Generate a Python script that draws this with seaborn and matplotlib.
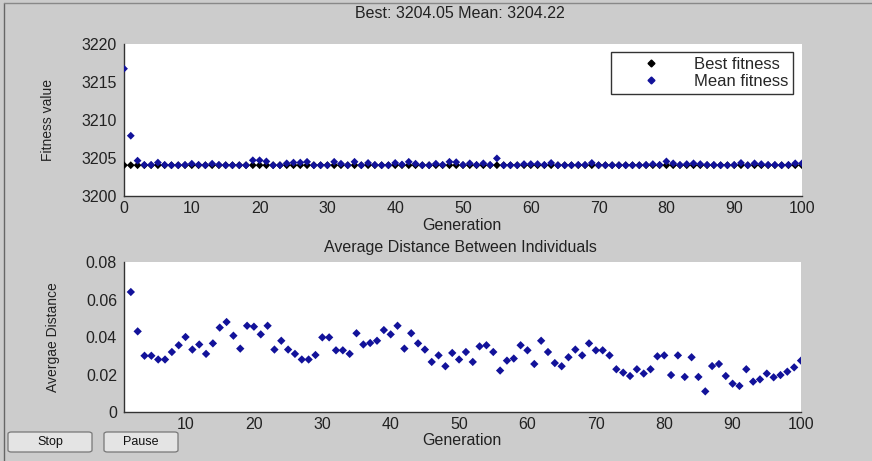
import matplotlib
matplotlib.use("Agg")
import matplotlib.pyplot as plt
import seaborn as sns
import pandas as pd
from matplotlib.patches import FancyBboxPatch
from matplotlib.lines import Line2D

# ---------------- data ----------------
generations_top = list(range(0, 101))
best_fitness = [3204.05] * 101
mean_fitness = [
    3216.75, 3207.93, 3204.65, 3204.1, 3204.1, 3204.4, 3204.1, 3204.05, 3204.05, 3204.1,
    3204.25, 3204.1, 3204.05, 3204.25, 3204.1, 3204.05, 3204.05, 3204.05, 3204.05, 3204.7,
    3204.7, 3204.55, 3204.05, 3204.05, 3204.3, 3204.4, 3204.4, 3204.5, 3204.05, 3204.05,
    3204.05, 3204.5, 3204.25, 3204.05, 3204.5, 3204.05, 3204.35, 3204.1, 3204.05, 3204.05,
    3204.35, 3204.15, 3204.5, 3204.25, 3204.05, 3204.05, 3204.25, 3204.1, 3204.5, 3204.45,
    3204.1, 3204.3, 3204.1, 3204.3, 3204.1, 3204.95, 3204.05, 3204.05, 3204.05, 3204.2,
    3204.2, 3204.2, 3204.1, 3204.35, 3204.05, 3204.05, 3204.05, 3204.1, 3204.1, 3204.35,
    3204.05, 3204.05, 3204.05, 3204.05, 3204.05, 3204.05, 3204.05, 3204.1, 3204.2, 3204.1,
    3204.55, 3204.3, 3204.1, 3204.2, 3204.3, 3204.2, 3204.1, 3204.1, 3204.05, 3204.05,
    3204.1, 3204.35, 3204.05, 3204.3, 3204.2, 3204.1, 3204.1, 3204.05, 3204.1, 3204.3,
    3204.3,
]

generations_bottom = list(range(2, 101))
avg_distance = [
    0.064, 0.043, 0.030, 0.030, 0.028, 0.028, 0.032, 0.0356, 0.040,
    0.0333, 0.036, 0.031, 0.0366, 0.045, 0.048, 0.0407, 0.0338, 0.046, 0.0455,
    0.0414, 0.046, 0.0333, 0.038, 0.0333, 0.031, 0.028, 0.028, 0.0304, 0.0398,
    0.0398, 0.0329, 0.0329, 0.031, 0.042, 0.036, 0.0368, 0.038, 0.0437, 0.0414,
    0.046, 0.0338, 0.042, 0.0366, 0.0333, 0.0267, 0.0302, 0.0244, 0.0315, 0.028,
    0.032, 0.0267, 0.035, 0.0356, 0.032, 0.0221, 0.0274, 0.0285, 0.0356, 0.0329,
    0.0256, 0.038, 0.032, 0.0261, 0.0244, 0.0292, 0.0333, 0.0302, 0.0366, 0.0329,
    0.0329, 0.0302, 0.0228, 0.021, 0.0192, 0.0228, 0.0205, 0.0228, 0.0297, 0.0302,
    0.0197, 0.0302, 0.0187, 0.0292, 0.0187, 0.011, 0.0245, 0.0256, 0.0192, 0.0151,
    0.0139, 0.0228, 0.0162, 0.0174, 0.0205, 0.0185, 0.0197, 0.0215, 0.0238, 0.0274,
]

title_top = "Best: 3204.05 Mean: 3204.22"
title_bottom = "Average Distance Between Individuals"
legend_labels = ["Best fitness", "Mean fitness"]
top_yticks = [3200, 3205, 3210, 3215, 3220]
top_xticks = list(range(0, 101, 10))
bottom_yticks = [0, 0.02, 0.04, 0.06, 0.08]
bottom_ytick_labels = ["0", "0.02", "0.04", "0.06", "0.08"]
bottom_xticks = list(range(10, 101, 10))

# ---------------- style ----------------
sns.set_style("white")
plt.rcParams['font.family'] = ['Liberation Sans', 'DejaVu Sans']

W, H = 872, 461
BG = "#cccccc"
BLUE = "#12129a"

fig = plt.figure(figsize=(W / 100, H / 100), dpi=100, facecolor=BG)

def fx(px):
    return px / W

def fy(py):
    return 1 - py / H

ax1 = fig.add_axes([fx(124), fy(196), fx(802) - fx(124), fy(44) - fy(196)])
ax2 = fig.add_axes([fx(124), fy(412), fx(801) - fx(124), fy(262) - fy(412)])

df_top = pd.DataFrame({"Generation": generations_top * 2,
                       "value": best_fitness + mean_fitness,
                       "series": [legend_labels[0]] * 101 + [legend_labels[1]] * 101})
sns.scatterplot(data=df_top, x="Generation", y="value", hue="series",
                palette={legend_labels[0]: "black", legend_labels[1]: BLUE},
                marker="D", s=16, edgecolor="none", ax=ax1, legend=False, zorder=3)

df_bot = pd.DataFrame({"Generation": generations_bottom, "dist": avg_distance})
sns.scatterplot(data=df_bot, x="Generation", y="dist", color=BLUE,
                marker="D", s=18, edgecolor="none", ax=ax2, legend=False, zorder=3)

for ax in (ax1, ax2):
    ax.set_facecolor("white")
    for s in ("top", "right"):
        ax.spines[s].set_visible(False)
    for s in ("left", "bottom"):
        ax.spines[s].set_color("#333333")
        ax.spines[s].set_linewidth(1.0)
    ax.tick_params(direction="in", length=5, width=1, color="#333333",
                   labelsize=11.5, pad=5, labelcolor="#222222")
    ax.tick_params(axis="x", pad=3.5)
    ax.set_xlabel("")
    ax.set_ylabel("")

ax1.set_xlim(0, 100)
ax1.set_ylim(3200, 3220)
ax1.set_xticks(top_xticks)
ax1.set_yticks(top_yticks)

ax2.set_xlim(1, 100)
ax2.set_ylim(0, 0.08)
ax2.set_xticks(bottom_xticks)
ax2.set_yticks(bottom_yticks)
ax2.set_yticklabels(bottom_ytick_labels)

# legend
handles = [Line2D([], [], marker="D", ls="none", color="black", markersize=3.5),
           Line2D([], [], marker="D", ls="none", color=BLUE, markersize=3.5)]
leg = ax1.legend(handles, legend_labels, loc="upper right",
                 bbox_to_anchor=(0.987, 0.947), fontsize=12,
                 frameon=True, fancybox=False, edgecolor="black",
                 handlelength=4.2, handletextpad=0.45, borderpad=0.3,
                 labelspacing=0.12, borderaxespad=0)
leg.get_frame().set_linewidth(1.0)
leg.get_frame().set_facecolor("white")

# titles and labels
tc = "#222222"
fig.text(fx(460), fy(13), title_top, ha="center", va="center", fontsize=11.5, color=tc)
fig.text(fx(460), fy(247), title_bottom, ha="center", va="center", fontsize=11.5, color=tc)
fig.text(fx(462), fy(218), "Generation", ha="center", va="top", fontsize=11.5, color=tc)
fig.text(fx(462), fy(433), "Generation", ha="center", va="top", fontsize=11.5, color=tc)
fig.text(fx(48), fy(120), "Fitness value", ha="center", va="center",
         rotation=90, fontsize=10, color=tc)
fig.text(fx(53), fy(337), "Avergae Distance", ha="center", va="center",
         rotation=90, fontsize=10, color=tc)

# buttons
for (x0, x1, label) in [(8, 92, "Stop"), (104, 178, "Pause")]:
    box = FancyBboxPatch((fx(x0), fy(452)), fx(x1) - fx(x0), fy(432) - fy(452),
                         boxstyle="round,pad=0,rounding_size=0.004",
                         transform=fig.transFigure, facecolor="#e4e4e4",
                         edgecolor="#777777", linewidth=0.9)
    fig.add_artist(box)
    fig.text(fx((x0 + x1) / 2), fy(442), label, ha="center", va="center",
             fontsize=9, color="#111111")

# window frame lines
fig.add_artist(Line2D([fx(4), fx(4)], [0, fy(3)], transform=fig.transFigure,
                      color="#666666", linewidth=1))
fig.add_artist(Line2D([fx(4), 1], [fy(3), fy(3)], transform=fig.transFigure,
                      color="#888888", linewidth=1))

fig.savefig("out.png", dpi=100, facecolor=BG)
